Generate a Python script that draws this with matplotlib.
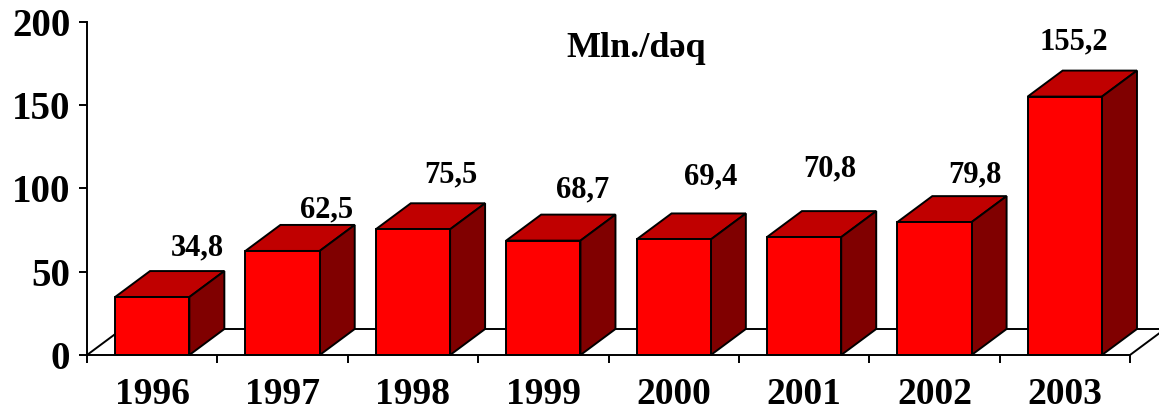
import numpy as np
import matplotlib.pyplot as plt
from matplotlib.patches import Polygon

years = ['1996', '1997', '1998', '1999', '2000', '2001', '2002', '2003']
values = [34.8, 62.5, 75.5, 68.7, 69.4, 70.8, 79.8, 155.2]
labels = ['34,8', '62,5', '75,5', '68,7', '69,4', '70,8', '79,8', '155,2']
yticks = [0, 50, 100, 150, 200]

# where each value label sits (offset from bar front centre: categories, values)
lab_dx = [0.35, 0.34, 0.29, 0.30, 0.28, 0.20, 0.31, 0.07]
lab_dy = [29.5, 24.6, 32.6, 30.4, 37.5, 40.9, 28.3, 32.8]

W, H = 1159, 416
fig = plt.figure(figsize=(W / 100, H / 100), dpi=100)
ax = fig.add_axes([87 / W, 61 / H, 1043 / W, 333 / H])
n = len(years)
ax.set_xlim(0, n)
ax.set_ylim(0, 200)

# depth of the fake 3d, in pixels -> data units
depth_x = 35 / (1043 / n)
depth_y = 26 / (333 / 200)

serif = 'Liberation Serif'
front = '#FF0000'
top = '#C00000'
side = '#800000'
ec = 'black'
lw = 1.4

# floor
floor = Polygon([(0, 0), (n, 0), (n + depth_x, depth_y), (depth_x, depth_y)],
                closed=True, facecolor='white', edgecolor=ec, lw=lw,
                clip_on=False, zorder=1)
ax.add_patch(floor)

bw = 0.57
xs = np.arange(n) + 0.5
ax.bar(xs, values, width=bw, color=front, edgecolor=ec, lw=lw, zorder=3)
for x, v in zip(xs, values):
    x0, x1 = x - bw / 2, x + bw / 2
    ax.add_patch(Polygon([(x0, v), (x1, v), (x1 + depth_x, v + depth_y),
                          (x0 + depth_x, v + depth_y)], closed=True,
                         facecolor=top, edgecolor=ec, lw=lw, zorder=2, clip_on=False))
    ax.add_patch(Polygon([(x1, 0), (x1 + depth_x, depth_y),
                          (x1 + depth_x, v + depth_y), (x1, v)], closed=True,
                         facecolor=side, edgecolor=ec, lw=lw, zorder=2, clip_on=False))

for x, v, t, ddx, ddy in zip(xs, values, labels, lab_dx, lab_dy):
    ax.text(x + ddx, v + ddy, t, ha='center', va='center', family=serif,
            fontweight='bold', fontsize=22, clip_on=False)

ax.text(0.527, 0.92, 'Mln./dəq', transform=ax.transAxes, ha='center',
        va='center', family=serif, fontweight='bold', fontsize=26)

for s in ['top', 'right', 'bottom']:
    ax.spines[s].set_visible(False)
ax.spines['left'].set_linewidth(lw)

ax.set_yticks(yticks)
ax.set_yticklabels([str(t) for t in yticks], family=serif, fontweight='bold',
                   fontsize=28)
ax.tick_params(axis='y', length=6, width=lw, pad=6)

ax.set_xticks(np.arange(n + 1))
ax.set_xticklabels([])
ax.set_xticks(xs, minor=True)
ax.set_xticklabels(years, minor=True, family=serif, fontweight='bold',
                   fontsize=27)
ax.tick_params(axis='x', which='major', length=6, width=lw)
ax.tick_params(axis='x', which='minor', length=0, pad=16)

fig.savefig('out.png', dpi=100)
